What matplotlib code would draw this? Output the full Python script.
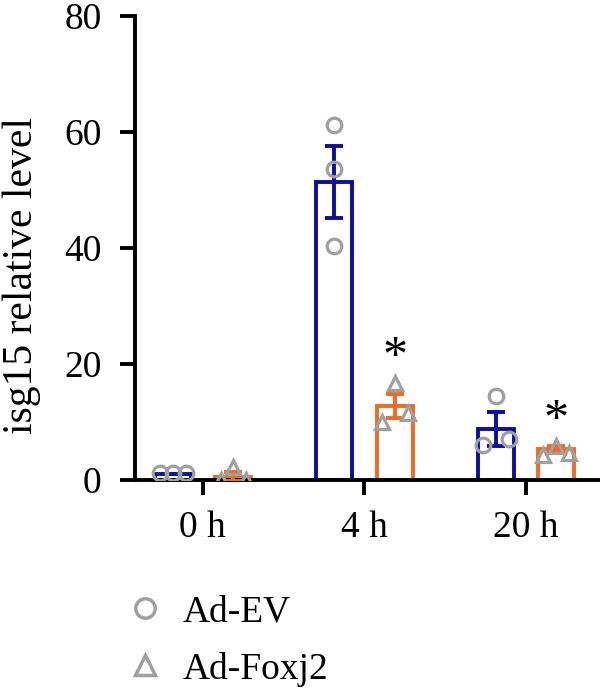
import matplotlib
matplotlib.use("Agg")
import matplotlib.pyplot as plt
import numpy as np
from matplotlib.lines import Line2D

categories = ["0 h", "4 h", "20 h"]
# individual points listed left, middle, right
ev_points = [[1.2, 1.2, 1.2], [61.2, 53.7, 40.3], [6.0, 14.4, 7.1]]
foxj2_points = [[0.0, 2.3, 0.0], [10.0, 16.7, 11.6], [4.3, 5.9, 4.6]]
ev_mean = [1.0, 51.4, 8.8]
ev_sem = [0.0, 6.2, 2.9]
foxj2_mean = [0.6, 12.8, 5.4]
foxj2_sem = [0.8, 2.1, 0.4]
sig_foxj2 = ["", "*", "*"]
y_ticks = [0, 20, 40, 60, 80]

blue = "#0c0ca6"
orange = "#f26a1b"
grey = "#a0a0a0"
serif = ["Liberation Serif", "DejaVu Serif"]

fig = plt.figure(figsize=(6.0, 6.89), dpi=100)
ax = fig.add_axes([0.225, 0.3033, 0.775, 0.6735])

x = np.arange(len(categories))
off_ev = -0.185
off_fx = 0.19
w = 0.223
lw = 2.8

for i in range(len(categories)):
    for xm, mean, sem, pts, col, mk in [
        (x[i] + off_ev, ev_mean[i], ev_sem[i], ev_points[i], blue, "o"),
        (x[i] + off_fx, foxj2_mean[i], foxj2_sem[i], foxj2_points[i], orange, "^"),
    ]:
        ax.bar(xm, mean, width=w, facecolor="white", edgecolor=col, linewidth=lw, zorder=2)
        ax.errorbar(xm, mean, yerr=sem, color=col, capsize=6.5, elinewidth=lw, capthick=lw,
                    fmt="none", zorder=3)
        if mk == "o" and i == 1:
            jit = np.zeros(3)
        else:
            jit = np.array([-0.08, 0.0, 0.08])
        ax.plot(xm + jit, pts, linestyle="none", marker=mk, markersize=10.5,
                markerfacecolor="none", markeredgecolor=grey, markeredgewidth=2.3, zorder=4)

for i, s in enumerate(sig_foxj2):
    if s:
        top = max(foxj2_mean[i] + foxj2_sem[i], max(foxj2_points[i]))
        ax.text(x[i] + off_fx, top + 4.3, s, ha="center", va="center",
                fontsize=36, family=serif, color="black")

ax.set_xlim(-0.42, 2.46)
ax.set_ylim(0, 80)
ax.set_yticks(y_ticks)
ax.set_xticks(x)
ax.set_xticklabels(categories)
ax.spines["top"].set_visible(False)
ax.spines["right"].set_visible(False)
for sp in ["left", "bottom"]:
    ax.spines[sp].set_linewidth(2.8)
ax.tick_params(axis="both", width=2.8, length=11, labelsize=27)
ax.tick_params(axis="y", pad=13)
ax.tick_params(axis="x", pad=11)
for lab in ax.get_xticklabels() + ax.get_yticklabels():
    lab.set_family(serif)
ax.set_ylabel("isg15 relative level", fontsize=30, family=serif)
ax.yaxis.set_label_coords(-0.203, 0.44)

handles = [
    Line2D([], [], linestyle="none", marker="o", markersize=14, markerfacecolor="none",
           markeredgecolor=grey, markeredgewidth=2.5),
    Line2D([], [], linestyle="none", marker="^", markersize=14, markerfacecolor="none",
           markeredgecolor=grey, markeredgewidth=2.5),
]
fig.legend(handles, ["Ad-EV", "Ad-Foxj2"], loc="upper left", bbox_to_anchor=(0.21, 0.137),
           frameon=False, prop={"family": serif, "size": 27}, handletextpad=0.5,
           labelspacing=0.6, handlelength=1.0, borderaxespad=0, borderpad=0)

fig.savefig("out.png", dpi=100)
